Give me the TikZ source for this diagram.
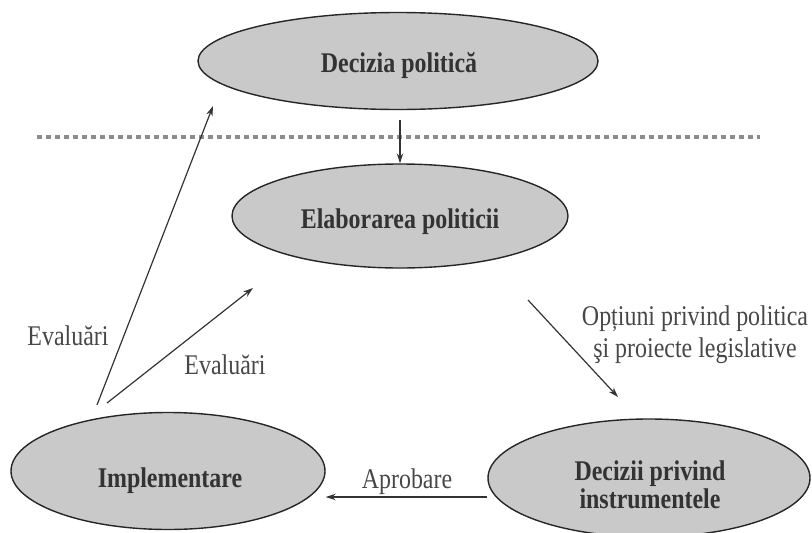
\documentclass[tikz,border=0pt]{standalone}
\usepackage{fontspec}
\setmainfont{Liberation Serif}
\newfontfamily\condfont[FakeStretch=0.84]{Liberation Serif}
\usetikzlibrary{shapes.geometric,arrows.meta,calc}
\begin{document}
\begin{tikzpicture}[x=1pt,y=-1pt,
  oval/.style={ellipse,draw=black!85,line width=1.4pt,fill=black!21,inner sep=0pt},
  otext/.style={font=\condfont\fontsize{28.5}{28}\selectfont\bfseries,text=black!80,align=center,inner sep=0pt},
  arr/.style={draw=black!80,line width=1.2pt,-{Stealth[length=10pt,width=6.5pt]}},
  lbl/.style={font=\condfont\fontsize{28.5}{32}\selectfont,text=black!72,align=center,inner sep=0pt}]
\useasboundingbox (0,0) rectangle (812,533);
\node[oval,minimum width=400pt,minimum height=97pt] (dp) at (398,61) {};
\node[oval,minimum width=336pt,minimum height=104pt] (ep) at (400,216) {};
\node[oval,minimum width=314pt,minimum height=117pt] (im) at (168,471) {};
\node[oval,minimum width=322pt,minimum height=118pt] (di) at (649,478) {};
\node[otext,anchor=base] (tdp) at (399,72) {Decizia politică};
\node[otext,anchor=base] (tep) at (400,228) {Elaborarea politicii};
\node[otext,anchor=base] (tim) at (170,487) {Implementare};
\node[otext] (tdi) at (650,484.5) {Decizii privind\\instrumentele};
\draw[black!45,line width=3.2pt,dash pattern=on 4.5pt off 4.5pt] (37,137) -- (760,137);
\coordinate (c1) at (400,120);
\draw[arr] (c1) -- (ep.north);
\coordinate (e1s) at (97,405);
\coordinate (e1t) at (213,106);
\draw[arr] (e1s) -- (e1t);
\coordinate (e2s) at (107,403);
\coordinate (e2t) at (253,288);
\draw[arr] (e2s) -- (e2t);
\coordinate (os) at (528,300);
\coordinate (ot) at (618,397);
\draw[arr] (os) -- (ot);
\coordinate (ay) at (0,497);
\draw[arr] (di.west |- ay) -- (im.east |- ay);
\node[lbl,anchor=base] (l1) at (68,345) {Evaluări};
\node[lbl,anchor=base] (l2) at (225,374) {Evaluări};
\node[lbl] (l3) at (695,334.5) {Opțiuni privind politica\\şi proiecte legislative};
\node[lbl,anchor=base] (l4) at (407,488) {Aprobare};
\end{tikzpicture}
\end{document}
